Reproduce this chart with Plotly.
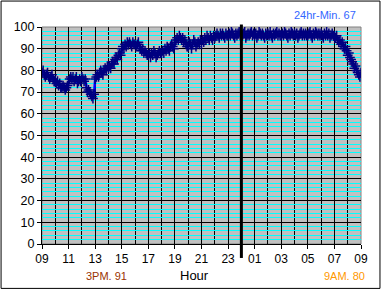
import plotly.graph_objects as go

# ---- data (5-minute readings, 09:00 -> 09:00 next day) ----
hours_elapsed = [i / 12 for i in range(289)]
humidity = [
    79, 80, 78, 77, 78, 79, 77, 76, 77, 78, 76, 75,   # 09
    75, 74, 75, 73, 74, 72, 72, 73, 72, 71, 72, 73,   # 10
    74, 76, 77, 76, 77, 75, 76, 77, 74, 75, 76, 75,   # 11
    77, 76, 75, 76, 72, 70, 71, 70, 69, 68, 67, 69,   # 12
    76, 77, 78, 77, 79, 80, 79, 78, 80, 81, 80, 82,   # 13
    81, 82, 81, 83, 84, 83, 85, 86, 85, 87, 88, 87,   # 14
    90, 91, 90, 92, 91, 93, 92, 93, 92, 91, 93, 92,   # 15
    92, 91, 92, 93, 91, 90, 89, 90, 88, 89, 88, 87,   # 16
    87, 88, 86, 88, 87, 89, 88, 86, 87, 88, 89, 88,   # 17
    88, 89, 88, 90, 89, 91, 90, 89, 91, 92, 91, 90,   # 18
    93, 94, 95, 94, 96, 95, 94, 95, 93, 94, 92, 91,   # 19
    91, 93, 92, 90, 92, 94, 93, 91, 92, 93, 92, 94,   # 20
    92, 94, 93, 95, 94, 96, 95, 94, 96, 95, 94, 96,   # 21
    95, 96, 97, 96, 95, 97, 96, 97, 96, 95, 97, 96,   # 22
    96, 97, 96, 98, 97, 96, 95, 97, 96, 97, 98, 96,   # 23
    97, 96, 97, 98, 95, 96, 97, 96, 97, 98, 96, 97,   # 00
    96, 97, 95, 96, 98, 97, 96, 97, 96, 95, 97, 96,   # 01
    97, 96, 98, 96, 95, 97, 96, 97, 98, 96, 97, 96,   # 02
    96, 97, 96, 98, 97, 96, 95, 97, 96, 98, 97, 96,   # 03
    97, 96, 97, 95, 96, 97, 98, 96, 97, 96, 97, 96,   # 04
    96, 97, 98, 96, 95, 97, 96, 98, 97, 96, 97, 96,   # 05
    97, 96, 95, 97, 96, 98, 96, 97, 95, 96, 97, 96,   # 06
    96, 95, 96, 94, 93, 94, 92, 93, 91, 90, 91, 89,   # 07
    87, 88, 86, 85, 84, 83, 81, 82, 80, 79, 78, 77,   # 08
    79,                                               # 09
]
x_tick_vals = list(range(0, 25, 2))
x_tick_text = ["09", "11", "13", "15", "17", "19", "21", "23", "01", "03", "05", "07", "09"]
y_tick_vals = list(range(0, 101, 10))
midnight = 15
min_label = "24hr-Min. 67"
pm_label = "3PM. 91"
am_label = "9AM. 80"
x_title = "Hour"

W, H = 385, 290
L, R, T, B = 41.5, 361, 26.5, 244


def px(x):
    return (x - L) / (R - L)


def py(y):
    return (B - y) / (B - T)


fig = go.Figure()
fig.add_trace(go.Scatter(
    x=hours_elapsed, y=humidity, mode="lines+markers",
    line=dict(color="#0000FF", width=2.5),
    marker=dict(symbol="cross-thin", size=7, line=dict(color="#000080", width=1.5)),
    showlegend=False,
))

font = "Liberation Sans, Arial, sans-serif"
fig.update_layout(
    width=W, height=H,
    margin=dict(l=L, r=W - R, t=T, b=H - B),
    paper_bgcolor="white", plot_bgcolor="#C0C0C0",
    font=dict(family=font, size=12, color="black"),
    xaxis=dict(
        range=[0, 24], tickvals=x_tick_vals, ticktext=x_tick_text,
        showgrid=True, gridcolor="black", gridwidth=1,
        minor=dict(dtick=1, tick0=0, showgrid=True, gridcolor="black", gridwidth=1, ticks=""),
        ticks="outside", ticklen=4, tickcolor="black",
        showline=True, linecolor="black", linewidth=1,
        zeroline=False, tickfont=dict(size=12),
    ),
    yaxis=dict(
        range=[0, 100], tickvals=y_tick_vals,
        showgrid=True, gridcolor="black", gridwidth=1,
        minor=dict(dtick=2, tick0=0, showgrid=True, gridcolor="#00FFFF", gridwidth=1, ticks=""),
        ticks="outside", ticklen=4, tickcolor="black",
        showline=True, linecolor="black", linewidth=1,
        zeroline=False, tickfont=dict(size=12.5),
    ),
    shapes=[
        dict(type="rect", xref="paper", yref="paper", x0=0, x1=1, y0=0, y1=1,
             line=dict(color="#808080", width=1), layer="below"),
        dict(type="line", xref="x", yref="paper", x0=midnight, x1=midnight,
             y0=py(258), y1=py(24), line=dict(color="black", width=3)),
        dict(type="rect", xref="paper", yref="paper", x0=px(0.5), x1=px(380),
             y0=py(288.5), y1=py(0.5), line=dict(color="black", width=1)),
    ],
    annotations=[
        dict(text=min_label, xref="paper", yref="paper", x=px(358), y=py(14),
             xanchor="right", yanchor="middle", showarrow=False,
             font=dict(size=11, color="#3366FF")),
        dict(text=pm_label, xref="paper", yref="paper", x=px(106), y=py(276),
             xanchor="center", yanchor="middle", showarrow=False,
             font=dict(size=11, color="#993300")),
        dict(text=x_title, xref="paper", yref="paper", x=px(194), y=py(276),
             xanchor="center", yanchor="middle", showarrow=False,
             font=dict(size=13, color="black")),
        dict(text=am_label, xref="paper", yref="paper", x=px(344), y=py(276),
             xanchor="center", yanchor="middle", showarrow=False,
             font=dict(size=11, color="#FF9900")),
    ],
)
fig.write_html("out.html")
